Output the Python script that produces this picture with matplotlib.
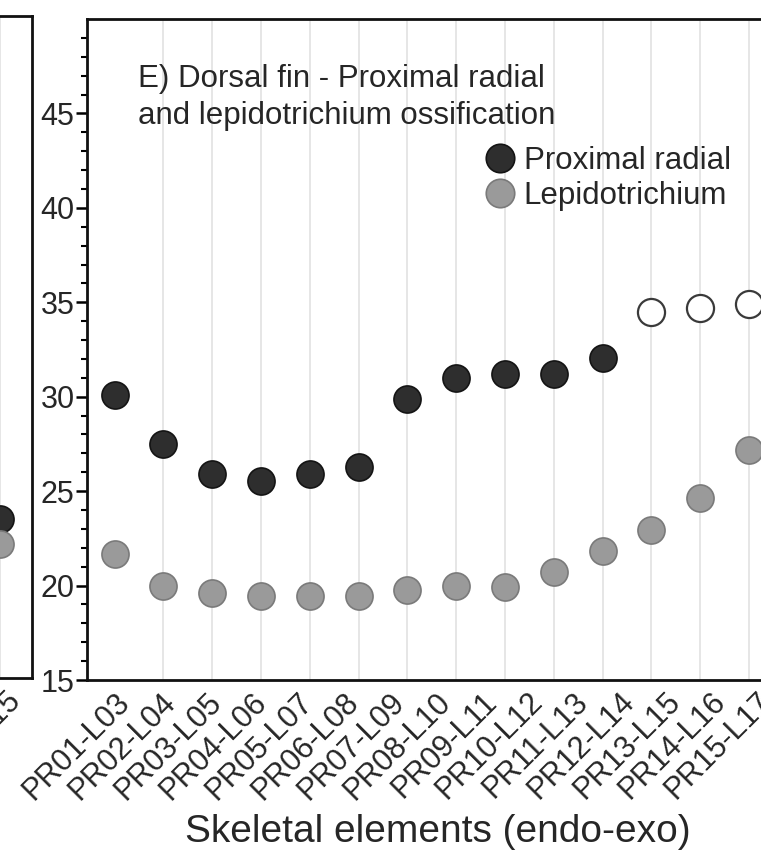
import matplotlib
matplotlib.use("Agg")
import matplotlib.pyplot as plt
import numpy as np
from matplotlib.lines import Line2D

plt.rcParams["font.family"] = ["Liberation Sans", "DejaVu Sans"]

# data
labels = ["PR01-L03", "PR02-L04", "PR03-L05", "PR04-L06", "PR05-L07",
          "PR06-L08", "PR07-L09", "PR08-L10", "PR09-L11", "PR10-L12",
          "PR11-L13", "PR12-L14", "PR13-L15", "PR14-L16", "PR15-L17"]
proximal = [30.1, 27.5, 25.9, 25.55, 25.9, 26.3, 29.9, 31.0, 31.2, 31.2, 32.05]
proximal_open = [34.5, 34.7, 34.9]
lepido = [21.65, 19.96, 19.6, 19.45, 19.45, 19.45, 19.75, 19.96, 19.9, 20.7,
          21.85, 22.95, 24.65, 27.2]

# previous panel (only its last column is in view)
prev_label = ["PR13-L15"]
prev_proximal = [23.4]
prev_lepido = [22.1]

dark_fc, dark_ec = "#2e2e2e", "#141414"
grey_fc, grey_ec = "#9a9a9a", "#7a7a7a"
text_c = "#262626"
ms = 19.5

fig = plt.figure(figsize=(7.61, 8.55), dpi=100)
W, H = 761, 855


def px_axes(left, top, right, bottom):
    return fig.add_axes([left / W, 1 - bottom / H, (right - left) / W, (bottom - top) / H])


def style(ax):
    for s in ax.spines.values():
        s.set_linewidth(2.0)
        s.set_color("#111111")
    ax.set_ylim(15, 50)
    ax.set_xticks(np.arange(15), minor=True)
    ax.grid(True, which="minor", axis="x", color="#e6e6e6", lw=1.4)
    ax.set_axisbelow(True)
    ax.tick_params(axis="x", which="both", length=0, labelsize=22, pad=5,
                   labelcolor=text_c)


# left (cut) panel
ax0 = px_axes(-300, 16, 32, 678)
style(ax0)
ax0.set_xlim(-6.15, 0.656)
ax0.yaxis.set_visible(False)
x0 = np.arange(len(prev_proximal))
ax0.plot(x0, prev_proximal, "o", ms=ms, mfc=dark_fc, mec=dark_ec, mew=1.2)
ax0.plot(x0, prev_lepido, "o", ms=ms, mfc=grey_fc, mec=grey_ec, mew=1.2)
ax0.set_xticks(x0 + 0.1, prev_label)
plt.setp(ax0.get_xticklabels(), rotation=45, ha="right", rotation_mode="anchor")

# main panel E
ax = px_axes(87, 19, 840, 680)
style(ax)
step = 48.8
ax.set_xlim(-(114.5 - 87) / step, (840 - 114.5) / step)

xp = np.arange(len(proximal))
xo = np.arange(len(proximal), len(proximal) + len(proximal_open))
xl = np.arange(len(lepido))
ax.plot(xl, lepido, "o", ms=ms, mfc=grey_fc, mec=grey_ec, mew=1.2, zorder=3)
ax.plot(xp, proximal, "o", ms=ms, mfc=dark_fc, mec=dark_ec, mew=1.2, zorder=3)
ax.plot(xo, proximal_open, "o", ms=ms, mfc="white", mec="#3a3a3a", mew=1.6, zorder=3)

# category labels sit a little tighter than the columns in the original
lab_pos = 0.0 + 0.94 * np.arange(len(labels))
ax.set_xticks(lab_pos, labels)
plt.setp(ax.get_xticklabels(), rotation=45, ha="right", rotation_mode="anchor")

ax.set_yticks(np.arange(15, 50, 5))
ax.set_yticks(np.arange(15, 50, 1), minor=True)
ax.tick_params(axis="y", which="major", length=8, width=1.8, labelsize=22, pad=1,
               direction="out", labelcolor=text_c)
ax.tick_params(axis="y", which="minor", length=4.5, width=1.5, direction="out")

ax.text(0.0677, 0.932, "E) Dorsal fin - Proximal radial\nand lepidotrichium ossification",
        transform=ax.transAxes, ha="left", va="top", fontsize=22.5, linespacing=1.3,
        color=text_c)

handles = [
    Line2D([], [], ls="", marker="o", ms=20.5, mfc=dark_fc, mec=dark_ec, mew=1.2),
    Line2D([], [], ls="", marker="o", ms=20.5, mfc=grey_fc, mec=grey_ec, mew=1.2),
]
ax.legend(handles, ["Proximal radial", "Lepidotrichium"], loc="upper left",
          bbox_to_anchor=(0.532, 0.808), frameon=False, fontsize=22.5,
          handlelength=0.8, handletextpad=0.35, borderpad=0, labelspacing=0.15,
          borderaxespad=0, labelcolor=text_c)

ax.set_xlabel("Skeletal elements (endo-exo)", fontsize=28, va="center", color=text_c)
ax.xaxis.set_label_coords((437.5 - 87) / 753, (680 - 832) / 661)

fig.savefig("out.png", dpi=100)
